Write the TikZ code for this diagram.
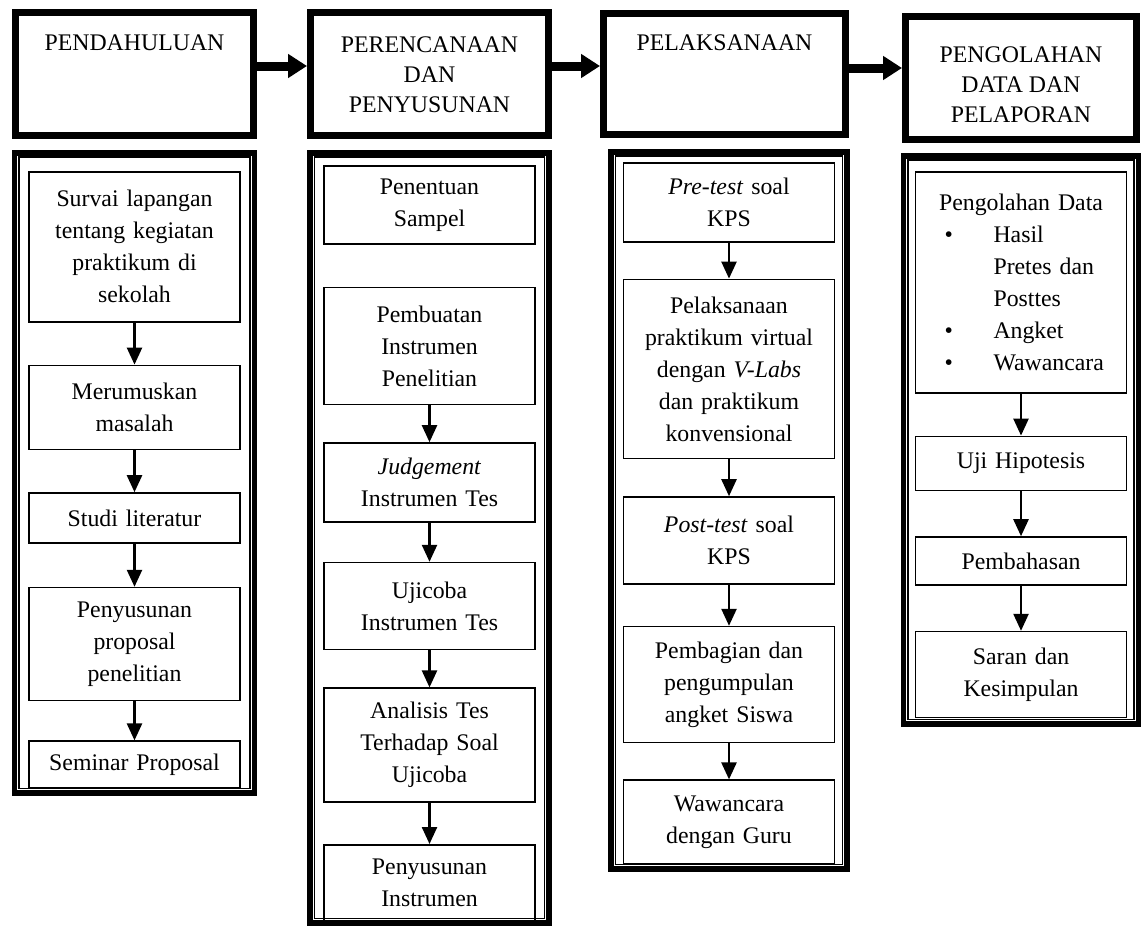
\documentclass[tikz,border=0pt]{standalone}
\usepackage{fontspec}
\setmainfont{Liberation Serif}
\usetikzlibrary{arrows.meta, positioning}

% header text sits at the top of its box
\newcommand{\headtext}[2][8.5pt]{\parbox[c][56pt][t]{112pt}{\vspace*{#1}\centering #2}}

\begin{document}
\begin{tikzpicture}[
    x=1pt, y=1pt,
    headbox/.style={draw=black, line width=3.5pt, minimum width=119pt, minimum height=61.5pt, inner sep=0pt, font=\fontsize{11.9pt}{15pt}\selectfont},
    stagebox/.style={draw=black, line width=2.8pt, inner sep=0pt},
    stepbox/.style={draw=black, line width=0.8pt, minimum width=105.5pt, text width=97.5pt, inner xsep=4pt, inner ysep=2pt, align=center, font=\fontsize{11.9pt}{16pt}\selectfont},
    inner_line/.style={draw=black, line width=0.8pt},
    link/.style={-{Triangle[length=8.5pt, width=7.5pt]}, line width=1.2pt},
    stage/.style={-{Triangle[length=9.5pt, width=11.5pt]}, line width=4.5pt}
  ]

  \useasboundingbox (0,0) rectangle (571.5,-463);

  % Stage headers
  \node[headbox, anchor=north west] (pendahuluan) at (6,-4.5) {\headtext{PENDAHULUAN}};
  \node[headbox, right=25pt of pendahuluan] (perencanaan) {\headtext[9.5pt]{PERENCANAAN\\DAN\\PENYUSUNAN}};
  \node[headbox, minimum width=121pt, minimum height=60.5pt, right=24pt of perencanaan] (pelaksanaan) {\headtext{PELAKSANAAN}};
  \node[headbox, minimum width=115.5pt, right=26.5pt of pelaksanaan, yshift=-2pt] (pelaporan) {\headtext[12.5pt]{PENGOLAHAN\\DATA DAN\\PELAPORAN}};

  % Arrows between the stages
  \draw[stage] ([yshift=4pt]pendahuluan.east) -- ([yshift=4pt]pendahuluan.east -| perencanaan.west);
  \draw[stage] ([yshift=4pt]perencanaan.east) -- ([yshift=4pt]perencanaan.east -| pelaksanaan.west);
  \draw[stage] ([yshift=3pt]pelaksanaan.east) -- ([yshift=3pt]pelaksanaan.east -| pelaporan.west);

  % Frames holding the steps of each stage
  \node[stagebox, minimum width=120pt, minimum height=320pt, below=5.5pt of pendahuluan] (pendahuluan_box) {};
  \node[stagebox, minimum width=119.5pt, minimum height=385pt, below=5.5pt of perencanaan] (perencanaan_box) {};
  \node[stagebox, minimum width=118pt, minimum height=358.5pt, below=5.5pt of pelaksanaan, xshift=2.25pt] (pelaksanaan_box) {};
  \node[stagebox, minimum width=117.5pt, minimum height=284pt, below=5pt of pelaporan] (pelaporan_box) {};

  % Thin inner line of the frames
  \foreach \f in {pendahuluan_box, perencanaan_box, pelaksanaan_box, pelaporan_box} {
    \draw[inner_line] ([shift={(3.6pt,-3.6pt)}]\f.north west) rectangle ([shift={(-3.6pt,3.6pt)}]\f.south east);
  }

  % Pendahuluan steps
  \node[stepbox, minimum height=75pt, below=10.5pt of pendahuluan_box.north] (survai) {Survai lapangan\\tentang kegiatan\\praktikum di\\sekolah};
  \node[stepbox, minimum height=42pt, below=21pt of survai] (rumusan) {Merumuskan\\masalah};
  \node[stepbox, minimum height=25pt, below=21pt of rumusan] (studi) {Studi literatur};
  \node[stepbox, minimum height=56.5pt, below=21.5pt of studi] (proposal) {Penyusunan\\proposal\\penelitian};
  \node[stepbox, minimum height=23.5pt, below=19.5pt of proposal] (seminar) {Seminar Proposal};

  % Perencanaan steps
  \node[stepbox, minimum height=39pt, below=7.5pt of perencanaan_box.north] (sampel) {Penentuan\\Sampel};
  \node[stepbox, minimum height=58.5pt, below=21pt of sampel] (pembuatan) {Pembuatan\\Instrumen\\Penelitian};
  \node[stepbox, minimum height=39.5pt, below=18.5pt of pembuatan] (judgement) {\textit{Judgement}\\Instrumen Tes};
  \node[stepbox, minimum height=43.5pt, below=19.5pt of judgement] (ujicoba) {Ujicoba\\Instrumen Tes};
  \node[stepbox, minimum height=57pt, below=18.5pt of ujicoba] (analisis) {Analisis Tes\\Terhadap Soal\\Ujicoba};
  \node[stepbox, minimum height=38.5pt, below=20.5pt of analisis] (penyusunan) {Penyusunan\\Instrumen};

  % Pelaksanaan steps
  \node[stepbox, minimum height=39.5pt, below=6.5pt of pelaksanaan_box.north] (pretest) {\textit{Pre-test} soal\\KPS};
  \node[stepbox, minimum height=89.5pt, below=18pt of pretest] (praktikum) {Pelaksanaan\\praktikum virtual\\dengan \textit{V-Labs}\\dan praktikum\\konvensional};
  \node[stepbox, minimum height=43.5pt, below=18.5pt of praktikum] (posttest) {\textit{Post-test} soal\\KPS};
  \node[stepbox, minimum height=58pt, below=20.5pt of posttest] (angket) {Pembagian dan\\pengumpulan\\angket Siswa};
  \node[stepbox, minimum height=42pt, below=18pt of angket] (wawancara) {Wawancara\\dengan Guru};

  % Pengolahan data steps
  \node[stepbox, minimum height=110.5pt, align=left, below=9pt of pelaporan_box.north] (olahdata) {%
    \makebox[\hsize]{Pengolahan Data}\\
    \hspace*{10.5pt}\makebox[24.5pt][l]{\textbullet}Hasil\\
    \hspace*{35pt}Pretes dan\\
    \hspace*{35pt}Posttes\\
    \hspace*{10.5pt}\makebox[24.5pt][l]{\textbullet}Angket\\
    \hspace*{10.5pt}\makebox[24.5pt][l]{\textbullet}Wawancara};
  \node[stepbox, minimum height=27pt, below=21pt of olahdata] (hipotesis) {Uji Hipotesis};
  \node[stepbox, minimum height=24pt, below=22.5pt of hipotesis] (pembahasan) {Pembahasan};
  \node[stepbox, minimum height=43pt, below=22.5pt of pembahasan] (kesimpulan) {Saran dan\\Kesimpulan};

  % Arrows between the steps
  \foreach \a/\b in {survai/rumusan, rumusan/studi, studi/proposal, proposal/seminar,
                     pembuatan/judgement, judgement/ujicoba, ujicoba/analisis, analisis/penyusunan,
                     pretest/praktikum, praktikum/posttest, posttest/angket, angket/wawancara,
                     olahdata/hipotesis, hipotesis/pembahasan, pembahasan/kesimpulan} {
    \draw[link] (\a) -- (\b);
  }

\end{tikzpicture}
\end{document}
